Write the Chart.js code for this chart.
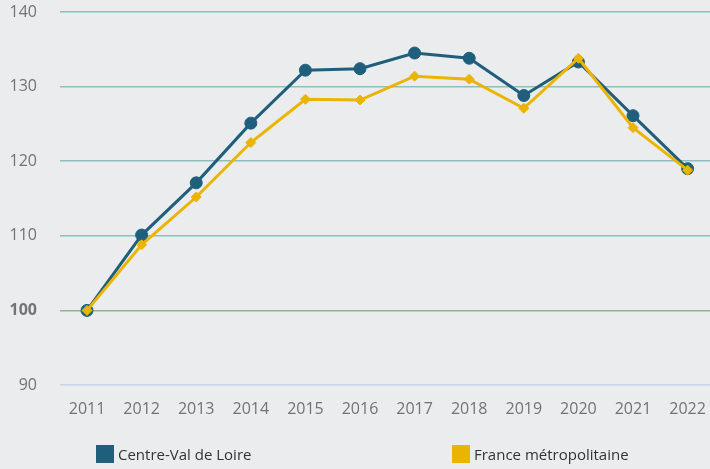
<!DOCTYPE html>
<html>
<head>
<meta charset="utf-8">
<script src="https://cdn.jsdelivr.net/npm/chart.js@4"></script>
<style>
  html, body { margin: 0; padding: 0; background: #ebecee; }
  #wrap { position: relative; width: 710px; height: 469px; }
  .legend { position: absolute; top: 444px; font: 15px "Open Sans", sans-serif; color: #333; display: flex; align-items: center; }
  .legend span.box { display: inline-block; width: 18px; height: 18px; margin-right: 4px; }
</style>
</head>
<body>
<div id="wrap">
  <canvas id="chart" width="710" height="469"></canvas>
  <div class="legend" style="left:96px"><span class="box" style="background:#1f5f7b"></span>Centre-Val de Loire</div>
  <div class="legend" style="left:452px"><span class="box" style="background:#ebb400"></span>France métropolitaine</div>
</div>
<script>
const years = [2011, 2012, 2013, 2014, 2015, 2016, 2017, 2018, 2019, 2020, 2021, 2022];
const centreValDeLoire = [100, 110.1, 117.1, 125.1, 132.2, 132.4, 134.5, 133.8, 128.8, 133.3, 126.1, 119.0];
const franceMetro = [100, 108.8, 115.2, 122.5, 128.3, 128.2, 131.4, 131.0, 127.1, 133.8, 124.5, 118.8];
const yTicks = [90, 100, 110, 120, 130, 140];

function toPoints(values) {
  return years.map((y, i) => ({ x: y, y: values[i] }));
}

// drop the automatic label padding so the plot area sits where the reference has it
function fixBox(scale, size) {
  if (scale.isHorizontal()) scale.height = size; else scale.width = size;
  scale.paddingTop = 0;
  scale.paddingBottom = 0;
  scale.paddingLeft = 0;
  scale.paddingRight = 0;
}

const ctx = document.getElementById('chart').getContext('2d');

new Chart(ctx, {
  type: 'line',
  data: {
    datasets: [
      {
        label: 'France métropolitaine',
        data: toPoints(franceMetro),
        borderColor: '#ebb400',
        backgroundColor: '#ebb400',
        borderWidth: 3,
        pointStyle: 'rectRot',
        pointRadius: 5,
        pointBorderWidth: 1,
        pointHoverRadius: 5,
        fill: false,
      },
      {
        label: 'Centre-Val de Loire',
        data: toPoints(centreValDeLoire),
        borderColor: '#1f5f7b',
        backgroundColor: '#1f5f7b',
        borderWidth: 3,
        pointStyle: 'circle',
        pointRadius: 6,
        pointBorderWidth: 1,
        pointHoverRadius: 6,
        fill: false,
      },
    ],
  },
  options: {
    responsive: false,
    animation: false,
    layout: { autoPadding: false, padding: { top: 12, bottom: 44, left: 0, right: 0 } },
    plugins: { legend: { display: false }, tooltip: { enabled: false } },
    scales: {
      x: {
        type: 'linear',
        min: 2010.505,
        max: 2022.41,
        afterBuildTicks: (scale) => { scale.ticks = years.map(v => ({ value: v })); },
        afterFit: (scale) => fixBox(scale, 40),
        grid: { display: false },
        border: { display: false },
        ticks: {
          color: '#737373',
          font: { family: 'Open Sans', size: 16 },
          padding: 7,
          maxRotation: 0,
          callback: (v) => String(v),
        },
      },
      y: {
        min: 90,
        max: 140,
        afterBuildTicks: (scale) => { scale.ticks = yTicks.map(v => ({ value: v })); },
        afterFit: (scale) => fixBox(scale, 60),
        border: { display: false },
        grid: {
          drawTicks: false,
          lineWidth: 1.5,
          color: (c) => c.tick.value === 100 ? '#93b592' : (c.tick.value === 90 ? '#c8d4ea' : '#8dbdbd'),
        },
        ticks: {
          color: '#737373',
          padding: 23,
          font: (c) => ({ family: 'Open Sans', size: 16, weight: c.tick && c.tick.value === 100 ? 'bold' : 'normal' }),
        },
      },
    },
  },
});
</script>
</body>
</html>
